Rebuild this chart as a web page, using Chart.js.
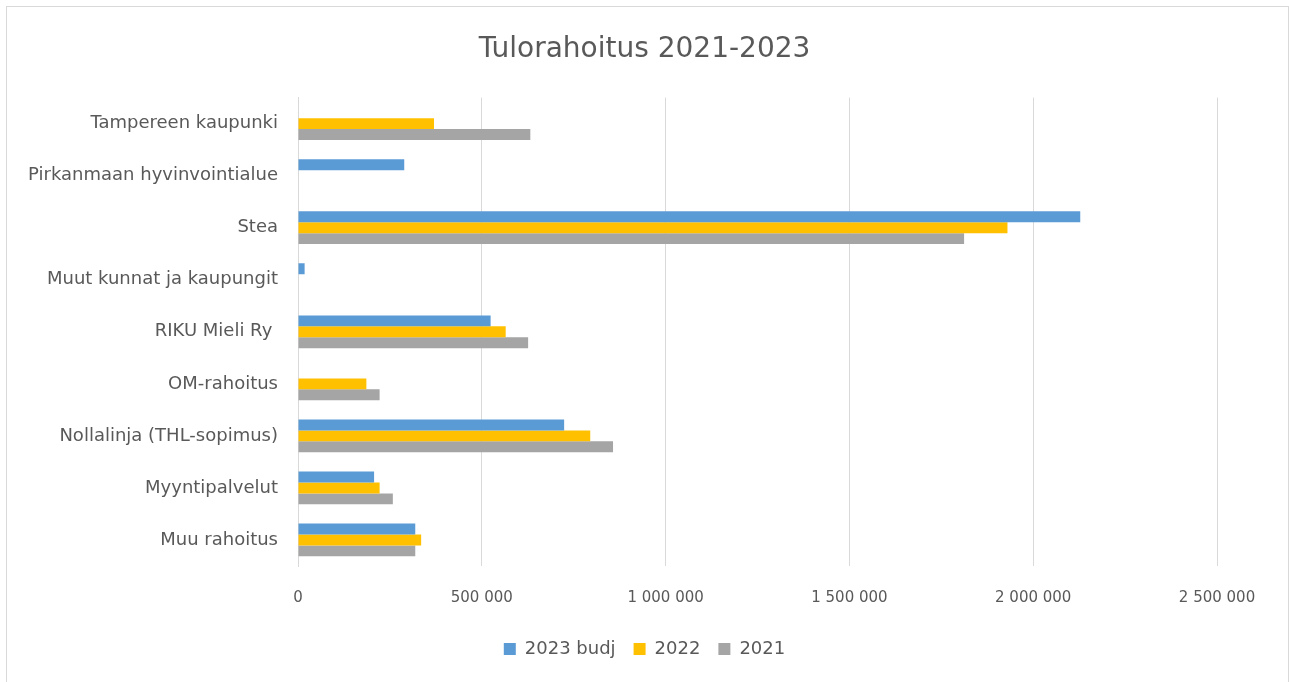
<!DOCTYPE html>
<html>
<head>
<meta charset="utf-8">
<script src="https://cdn.jsdelivr.net/npm/chart.js@4"></script>
<style>
  html, body { margin: 0; padding: 0; background: #fff; }
  #wrap { position: relative; width: 1289px; height: 682px; }
</style>
</head>
<body>
<div id="wrap"><canvas id="grafico"></canvas></div>
<script>
// Data
const kategoriat = ['Tampereen kaupunki', 'Pirkanmaan hyvinvointialue', 'Stea', 'Muut kunnat ja kaupungit',
  'RIKU Mieli Ry ', 'OM-rahoitus', 'Nollalinja (THL-sopimus)', 'Myyntipalvelut', 'Muu rahoitus'];
const budj2023 = [null, 289000, 2128000, 18000, 524000, null, 724000, 207000, 319000];
const v2022 = [370000, null, 1930000, null, 565000, 186000, 795000, 222000, 335000];
const v2021 = [632000, null, 1812000, null, 626000, 222000, 857000, 258000, 319000];
const xTicks = [0, 500000, 1000000, 1500000, 2000000, 2500000];

const teksti = '#595959';
const fontti = '"DejaVu Sans", sans-serif';

function muotoile(v) {
  return String(v).replace(/\B(?=(\d{3})+(?!\d))/g, ' ');
}

// reunus kaavion ympärille
const reunus = {
  id: 'reunus',
  beforeDraw(chart) {
    const c = chart.ctx;
    c.save();
    c.fillStyle = '#fff';
    c.fillRect(0, 0, chart.width, chart.height);
    c.strokeStyle = '#d9d9d9';
    c.lineWidth = 1;
    c.strokeRect(6.5, 6.5, chart.width - 7, chart.height + 10);
    c.restore();
  }
};

const ctx = document.getElementById('grafico').getContext('2d');
new Chart(ctx, {
  type: 'bar',
  data: {
    labels: kategoriat,
    datasets: [
      { label: '2023 budj', data: budj2023, backgroundColor: '#5B9BD5' },
      { label: '2022', data: v2022, backgroundColor: '#FFC000' },
      { label: '2021', data: v2021, backgroundColor: '#A5A5A5' }
    ]
  },
  options: {
    indexAxis: 'y',
    responsive: true,
    maintainAspectRatio: false,
    animation: false,
    barPercentage: 1,
    categoryPercentage: 0.63,
    layout: { padding: { top: 33, left: 10, right: 10, bottom: 14 } },
    plugins: {
      title: {
        display: true,
        text: 'Tulorahoitus 2021-2023',
        color: teksti,
        font: { family: fontti, size: 28, weight: 'normal' },
        padding: { top: 0, bottom: 31 }
      },
      legend: {
        position: 'bottom',
        labels: {
          color: teksti,
          font: { family: fontti, size: 18 },
          boxWidth: 12,
          boxHeight: 12,
          padding: 18
        }
      },
      tooltip: { enabled: false }
    },
    scales: {
      x: {
        min: 0,
        max: 2500000,
        afterBuildTicks(scale) {
          scale.ticks = xTicks.map(v => ({ value: v }));
        },
        afterFit(scale) { scale.height = 56; },
        grid: { color: '#d9d9d9', drawTicks: false },
        border: { display: false },
        ticks: {
          color: teksti,
          font: { family: fontti, size: 15 },
          padding: 23,
          callback: v => muotoile(v)
        }
      },
      y: {
        afterFit(scale) { scale.width = 288; },
        grid: { display: false, drawTicks: false },
        border: { display: true, color: '#d9d9d9' },
        ticks: {
          color: teksti,
          font: { family: fontti, size: 18 },
          padding: 20
        }
      },
      // tyhjä oikea akseli, jotta piirtoalue päättyy kuten alkuperäisessä
      y2: {
        position: 'right',
        afterFit(scale) { scale.width = 62; },
        grid: { display: false, drawTicks: false },
        border: { display: false },
        ticks: { display: false }
      }
    }
  },
  plugins: [reunus]
});
</script>
</body>
</html>
